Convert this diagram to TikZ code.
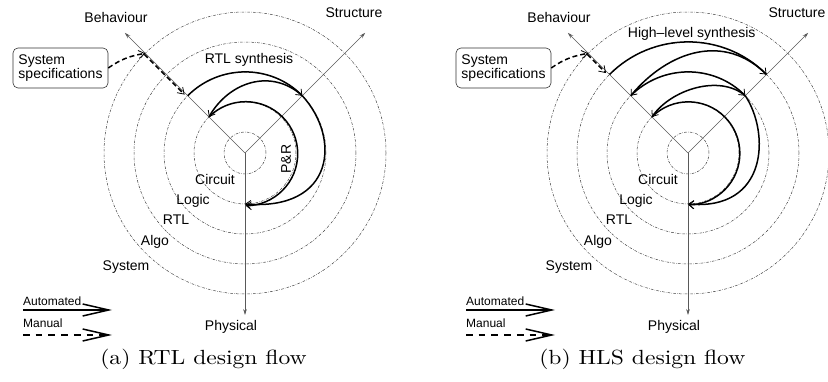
\documentclass[tikz,border=0pt]{standalone}
\usepackage{graphicx}
\usepackage{fontspec}
\newfontfamily\labfont{Liberation Sans}
\newfontfamily\capfont[Extension=.otf]{lmroman10-regular}
\usetikzlibrary{arrows.meta}
\tikzset{
  lvl/.style={draw=black!75, line width=0.5pt, dash pattern=on 2.6pt off 1.3pt on 0.5pt off 1.3pt},
  axisline/.style={draw=black!65, line width=0.65pt, -{Stealth[length=6pt,width=3.6pt]}},
  flow/.style={line width=1.5pt, -{Straight Barb[length=5pt,width=8pt,line width=0.8pt]}},
  manflow/.style={line width=1.5pt, dash pattern=on 5pt off 3pt, -{Straight Barb[length=6pt,width=8pt,line width=0.8pt]}},
  legauto/.style={line width=1.5pt, -{Straight Barb[length=26pt,width=12pt]}},
  legman/.style={line width=1.5pt, dash pattern=on 6.7pt off 6pt, -{Straight Barb[length=26pt,width=12pt]}},
  lab/.style={font=\labfont\fontsize{14}{14}\selectfont, inner sep=0pt},
  leg/.style={font=\labfont\fontsize{12}{12}\selectfont, inner sep=0pt, anchor=base west},
  specbox/.style={draw=black!80, rounded corners=5pt, line width=0.6pt, minimum width=95pt, minimum height=40pt,
     align=left, inner xsep=5pt, font=\labfont\fontsize{14}{12.7}\selectfont},
  capstyle/.style={font=\capfont\fontsize{20.5}{24}\selectfont, inner sep=0pt, anchor=base},
}
\newcommand\capwide[1]{\scalebox{1.15}[1]{#1}}
\newcommand\ychartbase{%
  \coordinate (o) at (0,0);
  \foreach \r in {21,51,81,111,141} \draw[lvl] (o) circle[radius=\r];
  \coordinate (beh) at (135:170);
  \coordinate (str) at (45:170);
  \coordinate (phy) at (0,-162);
  \draw[axisline] (o) -- (beh);
  \draw[axisline] (o) -- (str);
  \draw[axisline] (o) -- (phy);
  \coordinate (b141) at (135:141);
  \coordinate (b111) at (135:111);
  \coordinate (b81) at (135:81);
  \coordinate (b51) at (135:51);
  \coordinate (s111) at (45:111);
  \coordinate (s81) at (45:81);
  \coordinate (p51) at (270:51);
  \node[lab, anchor=base] (tb) at (-129,130.3) {Behaviour};
  \node[lab, anchor=base] (ts) at (109,135.3) {Structure};
  \node[lab, anchor=base] (tp) at (-14,-177.7) {Physical};
  \node[lab, anchor=base] (l1) at (-30,-32) {Circuit};
  \node[lab, anchor=base] (l2) at (-52,-52) {Logic};
  \node[lab, anchor=base] (l3) at (-69,-72) {RTL};
  \node[lab, anchor=base] (l4) at (-90,-93) {Algo};
  \node[lab, anchor=base] (l5) at (-119,-118) {System};
  \node[specbox] (spec) at (-184.5,85) {System\\specifications};
  \draw[manflow] (spec.east) to[out=35, in=190] (b141);
  \node[leg] (la) at (-222,-153) {Automated};
  \coordinate (la1) at (-222,-157);
  \coordinate (la2) at (-133,-157);
  \draw[legauto] (la1) -- (la2);
  \node[leg] (lm) at (-222,-175) {Manual};
  \coordinate (lm1) at (-222,-182);
  \coordinate (lm2) at (-133,-182);
  \draw[legman] (lm1) -- (lm2);
}
\begin{document}
\begin{tikzpicture}[x=1pt, y=1pt]
\useasboundingbox (0,0) rectangle (828,382);
% ---------- (a) RTL design flow ----------
\begin{scope}[shift={(245,229)}, name prefix=A-]
  \ychartbase
  \coordinate (d2s) at ([shift={(-1,-1)}]135:141);
  \coordinate (d2e) at ([shift={(-1,-1)}]135:84);
  \draw[manflow] (d2s) -- (d2e);
  \draw[flow] (b81) arc[start angle=135, end angle=45, radius=81];
  \draw[flow] (s81) to[out=138, in=60, looseness=1.1] (b51);
  \draw[flow] (b51) arc[start angle=135, end angle=-90, radius=52];
  \draw[flow] (s81) .. controls (96,15) and (90,-58) .. (p51);
  \node[lab, anchor=base] (rs) at (4,89.7) {RTL synthesis};
  \node[lab, rotate=90] (pr) at (41,-6) {P\&R};
  \node[capstyle] (cap) at (-41.5,-212) {\capwide{(a) RTL design flow}};
\end{scope}
% ---------- (b) HLS design flow ----------
\begin{scope}[shift={(688,229)}, name prefix=B-]
  \ychartbase
  \coordinate (d2s) at ([shift={(-1,-1)}]135:141);
  \coordinate (d2e) at ([shift={(-1,-1)}]135:114.5);
  \draw[manflow] (d2s) -- (d2e);
  \draw[flow] (b111) arc[start angle=135, end angle=45, radius=111];
  \draw[flow] (s111) to[out=135, in=50, looseness=1.1] (b81);
  \draw[flow] (b81) arc[start angle=135, end angle=45, radius=81];
  \draw[flow] (s81) to[out=140, in=55, looseness=0.9] (b51);
  \draw[flow] (b51) arc[start angle=135, end angle=-90, radius=51.5];
  \draw[flow] (s81) .. controls (82,20) and (80,-58) .. (p51);
  \node[lab, anchor=base] (hs) at (3.7,115.7) {High–level synthesis};
  \node[capstyle] (cap) at (-45.7,-212) {\capwide{(b) HLS design flow}};
\end{scope}
\end{tikzpicture}
\end{document}
